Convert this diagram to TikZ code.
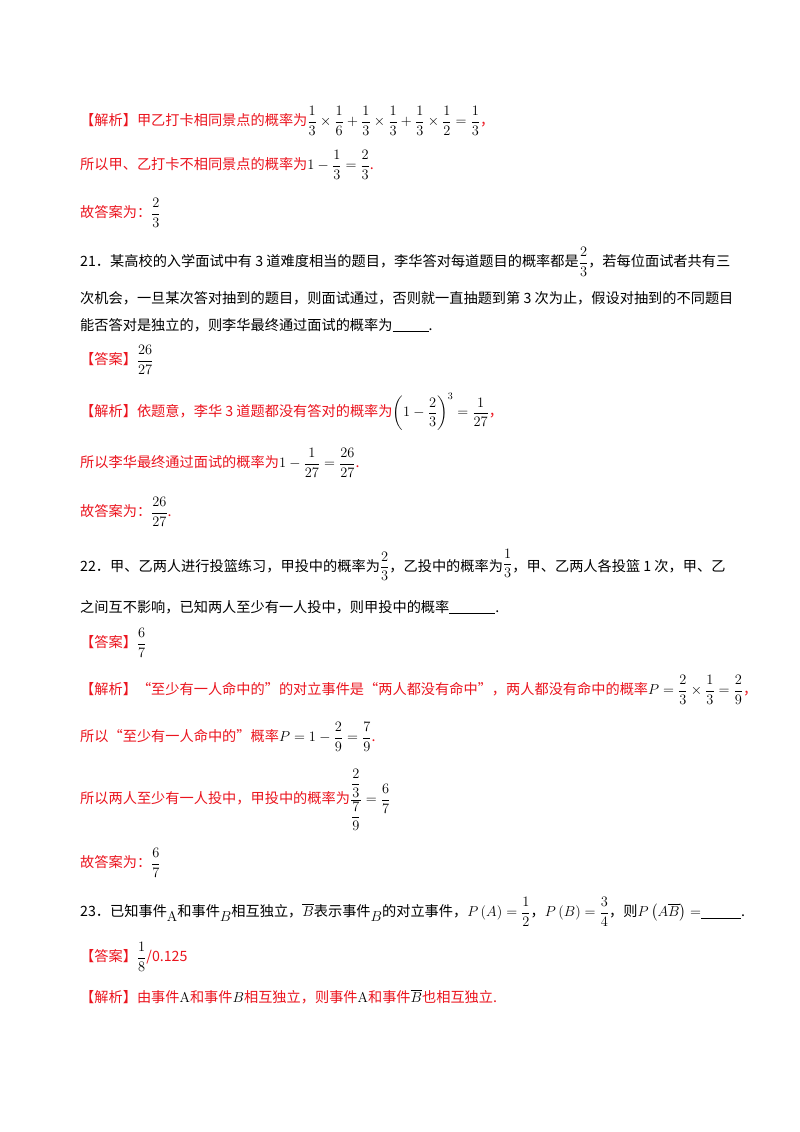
\documentclass[tikz,border=0pt]{standalone}
\usepackage{amsmath}
\usepackage{fontspec}
\newfontfamily\cjk{Noto Sans CJK SC}
\definecolor{rd}{RGB}{235,20,30}
\newcommand\mm[1]{\textcolor{black}{$\displaystyle #1$}}
\newcommand\bl[1]{\rule[-2pt]{#1}{1pt}}
\begin{document}
\begin{tikzpicture}[x=1pt,y=-1pt,
  ln/.style={anchor=west,inner sep=0pt,font=\cjk\fontsize{14.2}{17}\selectfont},
  red/.style={ln,text=rd}]
\useasboundingbox[fill=white] (0,0) rectangle (800,1132);
\node[red] (a1) at (80,121) {【解析】甲乙打卡相同景点的概率为\mm{\frac13\times\frac16+\frac13\times\frac13+\frac13\times\frac12=\frac13}，};
\node[red] (a2) at (80,165) {所以甲、乙打卡不相同景点的概率为\mm{1-\frac13=\frac23}.};
\node[red] (a3) at (80,213) {故答案为：\mm{\frac23}};
\node[ln] (q21a) at (80,262) {21．某高校的入学面试中有 3 道难度相当的题目，李华答对每道题目的概率都是\mm{\frac23}，若每位面试者共有三};
\node[ln] (q21b) at (80,298) {次机会，一旦某次答对抽到的题目，则面试通过，否则就一直抽题到第 3 次为止，假设对抽到的不同题目};
\node[ln] (q21c) at (80,325) {能否答对是独立的，则李华最终通过面试的概率为\bl{36pt}.};
\node[ln] (b1) at (80,360) {\textcolor{rd}{【答案】}\mm{\frac{26}{27}}};
\node[red] (b2) at (80,412) {【解析】依题意，李华 3 道题都没有答对的概率为\mm{\left(1-\frac23\right)^3=\frac1{27}}，};
\node[red] (b3) at (80,463) {所以李华最终通过面试的概率为\mm{1-\frac1{27}=\frac{26}{27}}.};
\node[red] (b4) at (80,512) {故答案为：\mm{\frac{26}{27}}.};
\node[ln] (q22a) at (80,565) {22．甲、乙两人进行投篮练习，甲投中的概率为\mm{\frac23}，乙投中的概率为\raisebox{3pt}{\mm{\frac13}}，甲、乙两人各投篮 1 次，甲、乙};
\node[ln] (q22b) at (80,607) {之间互不影响，已知两人至少有一人投中，则甲投中的概率\bl{46pt}.};
\node[ln] (c1) at (80,643) {\textcolor{rd}{【答案】}\mm{\frac67}};
\node[red] (c2) at (80,690) {【解析】“至少有一人命中的”的对立事件是“两人都没有命中”，两人都没有命中的概率\mm{P=\frac23\times\frac13=\frac29}，};
\node[red] (c3) at (80,737) {所以“至少有一人命中的”概率\mm{P=1-\frac29=\frac79}.};
\node[red] (c4) at (80,800) {所以两人至少有一人投中，甲投中的概率为\mm{\frac{\dfrac23}{\dfrac79}=\frac67}};
\node[red] (c5) at (80,863) {故答案为：\mm{\frac67}};
\node[ln] (q23) at (80,912) {23．已知事件\raisebox{-5pt}{$\mathrm{A}$}和事件\raisebox{-5pt}{$B$}相互独立，$\overline{B}$表示事件\raisebox{-5pt}{$B$}的对立事件，$P\left(A\right)=\dfrac12$，$P\left(B\right)=\dfrac34$，则$P\left(A\overline{B}\right)=$\bl{40pt}.};
\node[ln] (d1) at (80,957) {\textcolor{rd}{【答案】}\mm{\frac18}\textcolor{rd}{/0.125}};
\node[red] (d2) at (80,997) {【解析】由事件\mm{\mathrm{A}}和事件\mm{B}相互独立，则事件\mm{\mathrm{A}}和事件\mm{\overline{B}}也相互独立.};
\end{tikzpicture}
\end{document}
